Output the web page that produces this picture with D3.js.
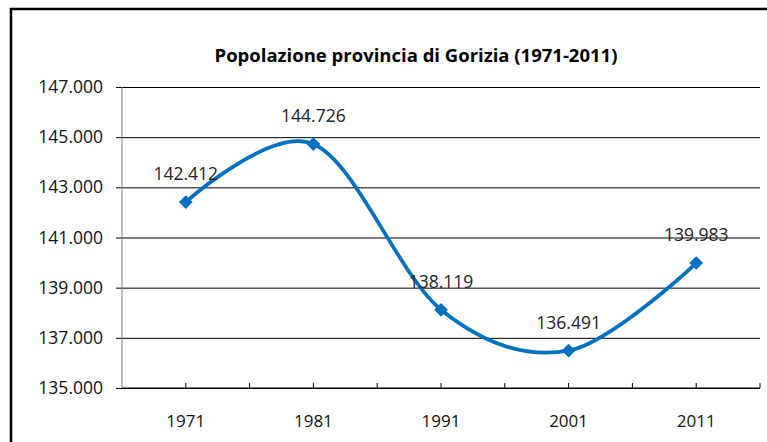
<!DOCTYPE html>
<html>
<head>
<meta charset="utf-8">
<script src="https://cdn.jsdelivr.net/npm/d3@7"></script>
<style>
  body { margin: 0; background: #fff; }
  text { font-family: "Open Sans", sans-serif; fill: #000; }
</style>
</head>
<body>
<div id="chart"></div>
<script>
const years = ["1971", "1981", "1991", "2001", "2011"];
const population = [142412, 144726, 138119, 136491, 139983];
const yTicks = [135000, 137000, 139000, 141000, 143000, 145000, 147000];
const title = "Popolazione provincia di Gorizia (1971-2011)";

const w = 767;
const h = 442;
const margin = { top: 87, right: 7, bottom: 54, left: 122 };

const fmt = d3.format(",.0f");
const itFmt = (v) => fmt(v).replace(/,/g, ".");

const svg = d3.select("#chart").append("svg")
  .attr("width", w)
  .attr("height", h);

// chart frame
svg.append("rect")
  .attr("x", 11).attr("y", 9)
  .attr("width", 800).attr("height", 500)
  .attr("fill", "none")
  .attr("stroke", "#000")
  .attr("stroke-width", 2.5);

svg.append("text")
  .attr("x", 416).attr("y", 62)
  .attr("text-anchor", "middle")
  .style("font-size", "18.5px")
  .style("font-weight", "bold")
  .text(title);

const xScale = d3.scaleBand()
  .domain(years)
  .range([margin.left, w - margin.right]);

const yScale = d3.scaleLinear()
  .domain([135000, 147000])
  .range([h - margin.bottom, margin.top]);

// horizontal gridlines with outward ticks
const yAxis = d3.axisLeft(yScale)
  .tickValues(yTicks)
  .tickFormat(itFmt)
  .tickSizeInner(-(w - margin.left - margin.right) - 6)
  .tickSizeOuter(0)
  .tickPadding(13);

const gy = svg.append("g")
  .attr("transform", `translate(${margin.left - 6},0)`)
  .call(yAxis);
gy.select(".domain").remove();
gy.selectAll(".tick line").attr("stroke", "#000").attr("x2", w - margin.right - margin.left + 6);
gy.selectAll(".tick text").style("font-size", "17.5px").style("fill", "#111");

// vertical axis line
svg.append("line")
  .attr("x1", margin.left).attr("x2", margin.left)
  .attr("y1", margin.top).attr("y2", h - margin.bottom)
  .attr("stroke", "#808080");

// category axis: ticks at centres and between categories
const half = xScale.bandwidth() / 2;
const tickPos = [];
years.forEach((y) => { tickPos.push(xScale(y) + half, xScale(y) + 2 * half); });

const gx = svg.append("g").attr("transform", `translate(0,${h - margin.bottom})`);
gx.append("line")
  .attr("x1", margin.left).attr("x2", w - margin.right)
  .attr("stroke", "#000");
gx.selectAll("line.tk").data(tickPos).enter().append("line")
  .attr("class", "tk")
  .attr("x1", (d) => d).attr("x2", (d) => d)
  .attr("y1", 0).attr("y2", -5)
  .attr("stroke", "#000");
gx.selectAll("text").data(years).enter().append("text")
  .attr("x", (d) => xScale(d) + half)
  .attr("y", 39)
  .attr("text-anchor", "middle")
  .style("font-size", "17px")
  .style("fill", "#111")
  .text((d) => d);

const pts = years.map((y, i) => [xScale(y) + half, yScale(population[i])]);

const line = d3.line().curve(d3.curveCardinal.tension(0));
svg.append("path")
  .attr("d", line(pts))
  .attr("fill", "none")
  .attr("stroke", "#0070c0")
  .attr("stroke-width", 3.75);

svg.selectAll("path.mk").data(pts).enter().append("path")
  .attr("class", "mk")
  .attr("d", d3.symbol().type(d3.symbolDiamond2).size(120))
  .attr("transform", (d) => `translate(${d[0]},${d[1]})`)
  .attr("fill", "#0070c0");

svg.selectAll("text.lbl").data(pts).enter().append("text")
  .attr("class", "lbl")
  .attr("x", (d) => d[0])
  .attr("y", (d) => d[1] - 22)
  .attr("text-anchor", "middle")
  .style("font-size", "17.5px")
  .style("fill", "#222")
  .text((d, i) => itFmt(population[i]));
</script>
</body>
</html>
